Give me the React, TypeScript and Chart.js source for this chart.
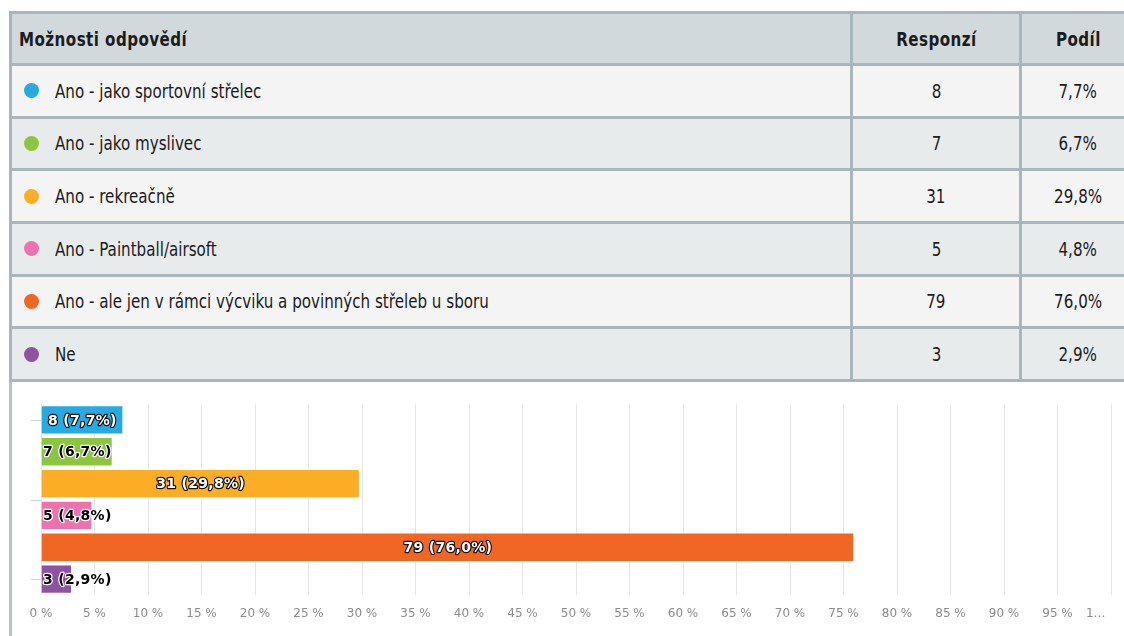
import React, { useEffect, useRef } from "react";
import { Chart, registerables } from "chart.js";

Chart.register(...registerables);

const headers = ["Možnosti odpovědí", "Responzí", "Podíl"];
const categories = [
  "Ano - jako sportovní střelec",
  "Ano - jako myslivec",
  "Ano - rekreačně",
  "Ano - Paintball/airsoft",
  "Ano - ale jen v rámci výcviku a povinných střeleb u sboru",
  "Ne",
];
const responses = [8, 7, 31, 5, 79, 3];
const shares = [7.7, 6.7, 29.8, 4.8, 76.0, 2.9];
const colors = ["#27a9e1", "#8cc63f", "#fbad26", "#ee72ad", "#f26624", "#8f52a2"];
const tickLabels = [
  "0 %", "5 %", "10 %", "15 %", "20 %", "25 %", "30 %", "35 %", "40 %", "45 %",
  "50 %", "55 %", "60 %", "65 %", "70 %", "75 %", "80 %", "85 %", "90 %", "95 %", "1…",
];

const BORDER = "#a9b6bc";
const TABLE_FONT = '"DejaVu Sans Condensed", "DejaVu Sans", sans-serif';
const fmtPct = (v: number) => v.toFixed(1).replace(".", ",") + "%";

const dataLabelPlugin = {
  id: "dataLabels",
  afterDatasetsDraw(chart: any) {
    const ctx = chart.ctx;
    const meta = chart.getDatasetMeta(0);
    ctx.save();
    ctx.font = 'bold 14px "DejaVu Sans", sans-serif';
    (ctx as any).letterSpacing = "0.3px";
    ctx.textBaseline = "middle";
    ctx.lineJoin = "round";
    ctx.lineWidth = 2.4;
    meta.data.forEach((bar: any, i: number) => {
      const text = `${responses[i]} (${fmtPct(shares[i])})`;
      const w = ctx.measureText(text).width;
      const barW = bar.x - bar.base;
      let x: number;
      if (w + 8 <= barW) {
        ctx.textAlign = "center";
        x = (bar.x + bar.base) / 2;
        ctx.strokeStyle = "#111";
        ctx.fillStyle = "#ffffff";
      } else {
        ctx.textAlign = "left";
        x = bar.base + 1.5;
        ctx.strokeStyle = "#ffffff";
        ctx.fillStyle = "#000000";
      }
      ctx.strokeText(text, x, bar.y + 1);
      ctx.fillText(text, x, bar.y + 1);
    });
    ctx.restore();
  },
};

const yTickPlugin = {
  id: "yTicks",
  afterDraw(chart: any) {
    const ctx = chart.ctx;
    const y = chart.scales.y;
    const left = chart.chartArea.left;
    ctx.save();
    ctx.strokeStyle = "#ccd6eb";
    ctx.lineWidth = 1;
    [0, 2.5, 5].forEach((v) => {
      const py = Math.round(y.getPixelForValue(v)) + 0.5;
      ctx.beginPath();
      ctx.moveTo(left - 10, py);
      ctx.lineTo(left, py);
      ctx.stroke();
    });
    ctx.restore();
  },
};

export default function App() {
  const ref = useRef<HTMLCanvasElement>(null);

  useEffect(() => {
    const chart = new Chart(ref.current!, {
      type: "bar",
      data: {
        labels: categories,
        datasets: [
          {
            data: shares,
            backgroundColor: colors,
            borderColor: "rgba(255,255,255,0.45)",
            borderWidth: 1,
            barPercentage: 0.92,
            categoryPercentage: 1,
          },
        ],
      },
      options: {
        indexAxis: "y",
        responsive: false,
        animation: false,
        devicePixelRatio: 1,
        layout: { padding: { left: 41, right: 13, top: 24, bottom: 0 } },
        plugins: {
          legend: { display: false },
          tooltip: { enabled: false },
        },
        scales: {
          y: { type: "category", display: false },
          x: {
            min: 0,
            max: 100,
            afterFit: (scale: any) => {
              scale.height = 41;
              scale.paddingLeft = 0;
              scale.paddingRight = 0;
            },
            border: { display: false },
            grid: { color: "#e6e6e6", drawTicks: false, lineWidth: 1 },
            ticks: {
              stepSize: 5,
              padding: 12,
              autoSkip: false,
              maxRotation: 0,
              color: "#8c8c8c",
              font: { family: '"DejaVu Sans", sans-serif', size: 12 },
              callback: (_v: any, i: number) =>
                i === tickLabels.length - 1
                  ? tickLabels[i] + "\u00a0".repeat(8)
                  : tickLabels[i],
            },
          },
        },
      },
      plugins: [dataLabelPlugin, yTickPlugin],
    } as any);
    return () => chart.destroy();
  }, []);

  const cellBase: React.CSSProperties = {
    display: "flex",
    alignItems: "center",
    fontFamily: TABLE_FONT,
    fontSize: 19,
    color: "#1c1c1c",
    boxSizing: "border-box",
    overflow: "hidden",
    whiteSpace: "nowrap",
  };

  const squeeze = (origin: string): React.CSSProperties => ({
    display: "inline-block",
    transform: "scaleX(0.885)",
    transformOrigin: origin,
  });

  return (
    <div
      style={{
        position: "fixed",
        left: 0,
        top: 0,
        width: 1124,
        height: 636,
        overflow: "hidden",
        background: "#ffffff",
      }}
    >
      <div
        style={{
          position: "absolute",
          left: 9,
          top: 11,
          width: 1128,
          boxSizing: "border-box",
          display: "grid",
          gridTemplateColumns: "838px 166px 112px",
          gridTemplateRows: "49px repeat(6, 49.67px)",
          gap: 3,
          padding: 3,
          background: BORDER,
        }}
      >
        {headers.map((h, i) => (
          <div
            key={"h" + i}
            style={{
              ...cellBase,
              background: "#d2d9dc",
              fontWeight: "bold",
              letterSpacing: "0.5px",
              justifyContent: i === 0 ? "flex-start" : "center",
              paddingLeft: i === 0 ? 7 : 0,
            }}
          >
            <span style={squeeze(i === 0 ? "left center" : "center center")}>{h}</span>
          </div>
        ))}
        {categories.map((c, i) => {
          const bg = i % 2 === 0 ? "#f4f4f4" : "#e8ebec";
          return (
            <React.Fragment key={"r" + i}>
              <div style={{ ...cellBase, background: bg, paddingLeft: 11.5 }}>
                <span
                  style={{
                    display: "inline-block",
                    width: 15,
                    height: 15,
                    borderRadius: "50%",
                    background: colors[i],
                    marginRight: 16.5,
                    flex: "none",
                  }}
                />
                <span style={squeeze("left center")}>{c}</span>
              </div>
              <div style={{ ...cellBase, background: bg, justifyContent: "center" }}>
                <span style={squeeze("center center")}>{responses[i]}</span>
              </div>
              <div style={{ ...cellBase, background: bg, justifyContent: "center" }}>
                <span style={squeeze("center center")}>{fmtPct(shares[i])}</span>
              </div>
            </React.Fragment>
          );
        })}
      </div>
      <canvas
        ref={ref}
        width={1124}
        height={256}
        style={{ position: "absolute", left: 0, top: 380, width: 1124, height: 256 }}
      />
      <div
        style={{
          position: "absolute",
          left: 9,
          top: 382,
          width: 3,
          height: 254,
          background: "#b4c0c5",
        }}
      />
    </div>
  );
}
